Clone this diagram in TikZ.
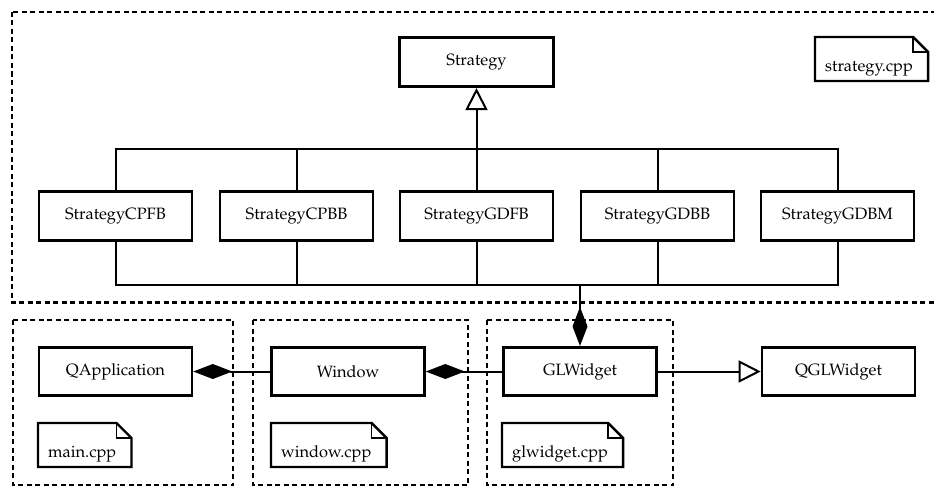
\documentclass[tikz,border=0pt]{standalone}
\usepackage[T1]{fontenc}
\usepackage{mathpazo}
\usetikzlibrary{arrows.meta,calc}

% File note with a folded corner: #1 name, #2 base-left point of the text, #3 text
\newcommand\filenote[3]{%
  \node[notetext] (#1) at (#2) {#3};
  \coordinate (#1-sw) at ([shift={(-10,10)}]#1.base west);
  \coordinate (#1-ne) at ([shift={(15,-34)}]#1.base east);
  \draw[notebox] (#1-sw) -- (#1-sw |- #1-ne) -- ([shift={(-15,0)}]#1-ne)
    -- ([shift={(0,15)}]#1-ne) -- (#1-sw -| #1-ne) -- cycle;
  \draw[notebox, line width=1.4pt] ([shift={(-15,0)}]#1-ne) -- ++(0,15) -- ++(15,0);
}

\begin{document}
\begin{tikzpicture}[x=1pt,y=-1pt,
  every node/.style={font=\fontsize{16.4}{20}\selectfont},
  classbox/.style={draw, line width=2.6pt, minimum width=153pt,
    minimum height=48.5pt, inner sep=0pt},
  link/.style={line width=2pt},
  comp/.style={link, -{Diamond[length=39pt,width=15pt]}},
  inherit/.style={link, -{Triangle[open,length=22pt,width=22pt]}},
  group/.style={line width=2.4pt, dash pattern=on 5pt off 3.5pt},
  notetext/.style={inner sep=0pt, anchor=base west},
  notebox/.style={line width=2.4pt, line join=miter},
]
\useasboundingbox (0,0) rectangle (934,487);

% source-file groupings
\draw[group] (12,12) rectangle (940,302.5);
\draw[group] (13,320) rectangle (233,485);
\draw[group] (253,320) rectangle (468,485);
\draw[group] (487,320) rectangle (673,485);

% strategy hierarchy
\node[classbox, minimum width=153.5pt, minimum height=49.5pt] (strat) at (476.5,62) {Strategy};
\node[classbox] (cpfb) at (115.5,216) {StrategyCPFB};
\node[classbox] (cpbb) at (296.5,216) {StrategyCPBB};
\node[classbox] (gdfb) at (476.5,216) {StrategyGDFB};
\node[classbox] (gdbb) at (657.5,216) {StrategyGDBB};
\node[classbox] (gdbm) at (837.5,216) {StrategyGDBM};

% application classes
\node[classbox] (qapp) at (115.5,371.5) {QApplication};
\node[classbox] (win)  at (348,371.5)   {Window};
\node[classbox] (glw)  at (580,371.5)   {GLWidget};
\node[classbox] (qglw) at (838.5,371.5) {QGLWidget};

% files
\filenote{fstrat}{825,71}{strategy.cpp}
\filenote{fmain}{48,457}{main.cpp}
\filenote{fwin}{281,457}{window.cpp}
\filenote{fglw}{512,457}{glwidget.cpp}

% junction points of the buses
\coordinate (jt) at (476.5,149);
\coordinate (jb) at (580,285);

% generalisation towards Strategy
\foreach \s in {cpfb,cpbb,gdfb,gdbb,gdbm}
  \draw[link] (\s.north) |- (jt);
\draw[inherit] (jt) -- (strat.south);

% GLWidget owns the strategies
\foreach \s in {cpfb,cpbb,gdfb,gdbb,gdbm}
  \draw[link] (\s.south) |- (jb);
\draw[comp, line width=2.6pt] (jb) -- (glw.north);

% composition and inheritance of the widgets
\draw[comp] (win.west) -- (qapp.east);
\draw[comp] (glw.west) -- (win.east);
\draw[inherit] (glw.east) -- (qglw.west);
\end{tikzpicture}
\end{document}
